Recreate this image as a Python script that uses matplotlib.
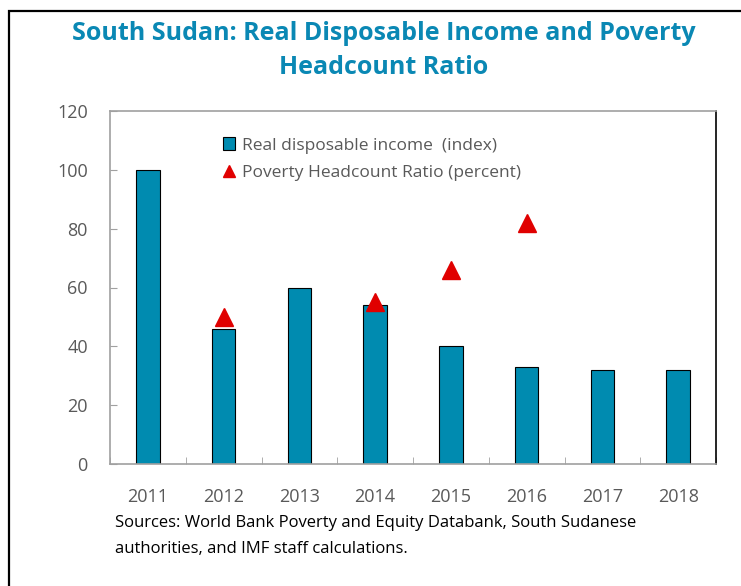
import matplotlib.pyplot as plt
from matplotlib.lines import Line2D
from matplotlib.patches import Patch, Rectangle
import numpy as np

years = ['2011', '2012', '2013', '2014', '2015', '2016', '2017', '2018']
income = [100, 46, 60, 54, 40, 33, 32, 32]
poverty_years = ['2012', '2014', '2015', '2016']
poverty = [50, 55, 66, 82]

bar_color = '#008BB0'
gray = '#595959'
plt.rcParams['font.family'] = ['Open Sans', 'DejaVu Sans']

fig = plt.figure(figsize=(7.41, 5.86), dpi=100)
ax = fig.add_axes([110/741, 1-464/586, (716-110)/741, (464-111)/586])

x = np.arange(len(years))
ax.bar(x, income, width=0.31, color=bar_color, edgecolor='black', linewidth=0.8, zorder=2)
px = [years.index(y) for y in poverty_years]
ax.plot(px, poverty, linestyle='none', marker='^', markersize=13,
        color='#E00000', zorder=3)

ax.set_xlim(-0.5, 7.5)
ax.set_ylim(0, 120)
ax.set_yticks(range(0, 121, 20))
ax.set_xticks(x)
ax.set_xticklabels(years)
ax.set_xticks(np.arange(-0.5, 7.6, 1), minor=True)
ax.tick_params(axis='x', which='major', length=0, pad=17, labelsize=13, labelcolor=gray)
ax.tick_params(axis='x', which='minor', direction='in', length=5, color='#A0A0A0')
ax.tick_params(axis='y', direction='in', length=5, color='#A0A0A0', pad=16,
               labelsize=13, labelcolor=gray)

for s in ['left', 'bottom', 'top']:
    ax.spines[s].set_color('#A0A0A0')
    ax.spines[s].set_linewidth(1.2)
ax.spines['right'].set_color('black')
ax.spines['right'].set_linewidth(1.2)

handles = [Patch(facecolor=bar_color, edgecolor='black', linewidth=0.8),
           Line2D([], [], linestyle='none', marker='^', markersize=8, color='#E00000')]
labels = ['Real disposable income  (index)', 'Poverty Headcount Ratio (percent)']
leg = ax.legend(handles, labels, loc='upper left', bbox_to_anchor=(0.16, 0.97),
                frameon=False, fontsize=12.5, handlelength=0.7, handleheight=0.8,
                handletextpad=0.4, labelspacing=0.6)
for t in leg.get_texts():
    t.set_color(gray)

fig.text(0.518, 1-33/586, 'South Sudan: Real Disposable Income and Poverty',
         ha='center', va='center', fontsize=18, fontweight='bold', color='#0A88B4')
fig.text(0.518, 1-68/586, 'Headcount Ratio',
         ha='center', va='center', fontsize=18, fontweight='bold', color='#0A88B4')

fig.text(115/741, 1-523/586, 'Sources: World Bank Poverty and Equity Databank, South Sudanese',
         ha='left', va='center', fontsize=12, color='black')
fig.text(115/741, 1-549/586, 'authorities, and IMF staff calculations.',
         ha='left', va='center', fontsize=12, color='black')

fig.patches.append(Rectangle((9/741, -0.1), 1.2, 1.1 - 11/586, transform=fig.transFigure,
                             fill=False, edgecolor='black', linewidth=1.6))

fig.savefig('out.png', dpi=100)
